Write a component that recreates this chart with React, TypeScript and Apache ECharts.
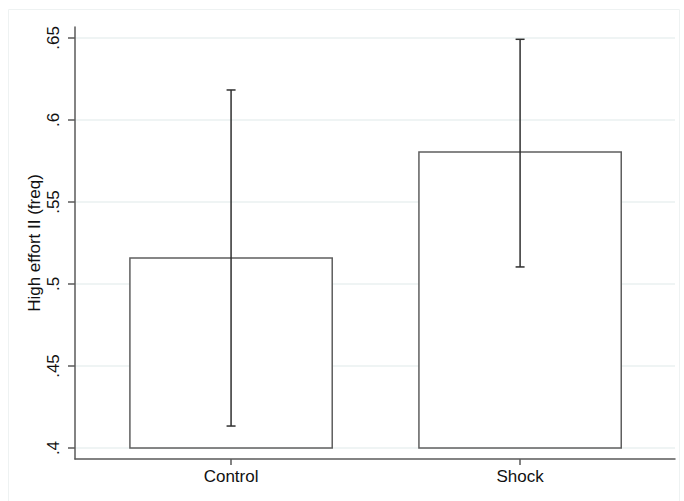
import React, { useEffect, useRef } from "react";
import * as echarts from "echarts";

// ---- data ----
const CATEGORIES = ["Control", "Shock"];
const CATEGORY_POS = [1, 2];
const MEANS = [0.5159, 0.5805];
const CI_LOW = [0.4134, 0.5104];
const CI_HIGH = [0.6183, 0.6492];
const Y_TICKS = [0.4, 0.45, 0.5, 0.55, 0.6, 0.65];
const Y_TICK_LABELS = [".4", ".45", ".5", ".55", ".6", ".65"];
const Y_TITLE = "High effort II (freq)";
const BAR_BASE = 0.4;

const FONT = "'Liberation Sans', Arial, Helvetica, sans-serif";

export default function App() {
  const ref = useRef<HTMLDivElement>(null);

  useEffect(() => {
    document.body.style.margin = "0";
    const chart = echarts.init(ref.current!, undefined, { renderer: "svg" });

    const barData = CATEGORY_POS.map((x, i) => [x, MEANS[i]]);
    const errData = CATEGORY_POS.map((x, i) => [x, CI_LOW[i], CI_HIGH[i]]);

    const option: any = {
      animation: false,
      backgroundColor: "#ffffff",
      graphic: [
        {
          type: "rect",
          shape: { x: 8.5, y: 9.5, width: 671, height: 500 },
          style: { fill: "none", stroke: "#eef2f2", lineWidth: 1 },
          silent: true,
          z: -10,
        },
      ],
      grid: { left: 75, right: 9, top: 27, bottom: 42 },
      xAxis: {
        type: "value",
        min: 0.46,
        max: 2.536,
        axisLine: { show: true, lineStyle: { color: "#5a5a5a", width: 1.5 } },
        axisTick: {
          show: true,
          customValues: CATEGORY_POS,
          length: 6,
          lineStyle: { color: "#5a5a5a", width: 1.5 },
        },
        axisLabel: {
          customValues: CATEGORY_POS,
          formatter: (v: number) => {
            const i = CATEGORY_POS.indexOf(Math.round(v));
            return i >= 0 ? CATEGORIES[i] : "";
          },
          color: "#111",
          fontSize: 17,
          fontFamily: FONT,
          margin: 9,
        },
        splitLine: { show: false },
      },
      yAxis: {
        type: "value",
        min: 0.3933,
        max: 0.6567,
        name: Y_TITLE,
        nameLocation: "middle",
        nameGap: 32,
        nameMoveOverlap: false,
        nameTextStyle: { color: "#111", fontSize: 17, fontFamily: FONT },
        axisLine: { show: true, lineStyle: { color: "#5a5a5a", width: 1.5 } },
        axisTick: {
          show: true,
          customValues: Y_TICKS,
          length: 7,
          lineStyle: { color: "#5a5a5a", width: 1.5 },
        },
        axisLabel: {
          customValues: Y_TICKS,
          rotate: 90,
          formatter: (v: number) => {
            const i = Y_TICKS.findIndex((t) => Math.abs(t - v) < 1e-6);
            return i >= 0 ? Y_TICK_LABELS[i] : "";
          },
          color: "#111",
          fontSize: 17,
          fontFamily: FONT,
          margin: 13,
        },
        splitLine: {
          show: true,
          lineStyle: { color: "#eaf0f0", width: 1.5 },
        },
      },
      series: [
        {
          type: "custom",
          data: barData,
          z: 2,
          renderItem: (params: any, api: any) => {
            const x = api.value(0);
            const v = api.value(1);
            const top = api.coord([x, v]);
            const base = api.coord([x, BAR_BASE]);
            const w = api.size([0.7, 0])[0];
            return {
              type: "rect",
              shape: { x: top[0] - w / 2, y: top[1], width: w, height: base[1] - top[1] },
              style: { fill: "#ffffff", stroke: "#5f5f5f", lineWidth: 1.5 },
            };
          },
        },
        {
          type: "custom",
          data: errData,
          z: 3,
          renderItem: (params: any, api: any) => {
            const x = api.value(0);
            const lo = api.coord([x, api.value(1)]);
            const hi = api.coord([x, api.value(2)]);
            const cap = 4.5;
            const st = { stroke: "#2f2f2f", lineWidth: 1.5 };
            return {
              type: "group",
              children: [
                { type: "line", shape: { x1: lo[0], y1: lo[1], x2: hi[0], y2: hi[1] }, style: st },
                { type: "line", shape: { x1: hi[0] - cap, y1: hi[1], x2: hi[0] + cap, y2: hi[1] }, style: st },
                { type: "line", shape: { x1: lo[0] - cap, y1: lo[1], x2: lo[0] + cap, y2: lo[1] }, style: st },
              ],
            };
          },
        },
      ],
    };

    chart.setOption(option);
    return () => chart.dispose();
  }, []);

  return <div ref={ref} style={{ width: 684, height: 501 }} />;
}
